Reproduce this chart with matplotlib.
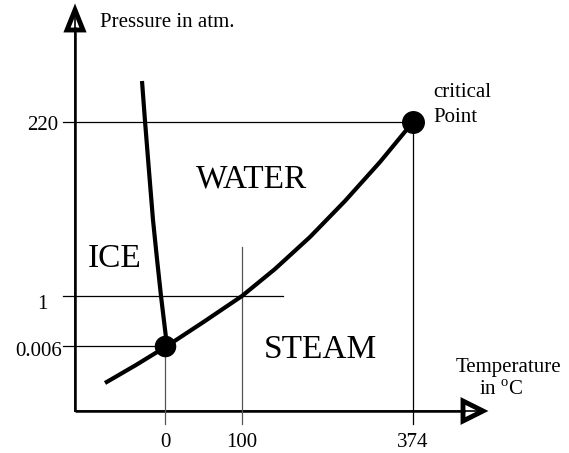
import numpy as np
import matplotlib
matplotlib.use('Agg')
import matplotlib.pyplot as plt
from matplotlib.patches import Polygon

plt.rcParams['font.family'] = 'Liberation Serif'
plt.rcParams['mathtext.fontset'] = 'custom'
plt.rcParams['mathtext.rm'] = 'Liberation Serif'

# schematic diagram, units = distance from the axis corner
temp_ticks = ['0', '100', '374']
temp_pos = [90, 167, 338]
pres_ticks = ['0.006', '1', '220']
pres_pos = [65, 115, 289]

# melting curve (ice / water)
ice_x = [67, 70, 74, 78, 82, 86, 92]
ice_y = [330, 290, 240, 191, 152, 115, 65]

# boiling curve (steam), from below the triple point up to the critical point
vap_x = [30, 61, 92, 130, 167, 200, 235, 270, 305, 338]
vap_y = [28, 46, 65, 90, 115, 142, 174, 210, 249, 289]

triple = (temp_pos[0], pres_pos[0])
critical = (temp_pos[2], pres_pos[2])

fig = plt.figure(figsize=(5.69, 4.53), dpi=100)
ax = fig.add_axes([0, 0, 1, 1])
ax.set_xlim(-75, 494)
ax.set_ylim(-42, 411)
ax.axis('off')

# axes with open arrow heads
ax.plot([0, 390], [0, 0], color='k', lw=1.8, solid_capstyle='butt')
ax.plot([0, 0], [0, 384], color='k', lw=1.8, solid_capstyle='butt')
ax.add_patch(Polygon([[408, 0], [388, 10], [388, -10]], closed=True,
                     facecolor='white', edgecolor='k', lw=3.5, joinstyle='miter'))
ax.add_patch(Polygon([[0, 401], [-8, 381], [8, 381]], closed=True,
                     facecolor='white', edgecolor='k', lw=3.5, joinstyle='miter'))
ax.plot([0, 0], [0, 396], color='k', lw=1.2)
ax.plot([0, 402], [0, 0], color='k', lw=1.2)

# guide lines
ax.plot([-12, critical[0]], [pres_pos[2], pres_pos[2]], color='k', lw=0.9)
ax.plot([-12, 208], [pres_pos[1], pres_pos[1]], color='k', lw=0.9)
ax.plot([-12, triple[0]], [pres_pos[0], pres_pos[0]], color='k', lw=0.9)
ax.plot([temp_pos[0], temp_pos[0]], [-13, pres_pos[0]], color='#555555', lw=0.9)
ax.plot([temp_pos[1], temp_pos[1]], [-13, 164], color='#555555', lw=0.9)
ax.plot([temp_pos[2], temp_pos[2]], [-13, pres_pos[2]], color='k', lw=0.9)

# phase boundaries
ax.plot(ice_x, ice_y, color='k', lw=3, solid_capstyle='butt', solid_joinstyle='round')
ax.plot(vap_x, vap_y, color='k', lw=3, solid_capstyle='butt', solid_joinstyle='round')
ax.plot(*triple, 'o', color='k', ms=14.5)
ax.plot(*critical, 'o', color='k', ms=15.5)

# tick labels
ax.text(-17, 281, pres_ticks[2], fontsize=15, ha='right', va='baseline')
ax.text(-27, 102, pres_ticks[1], fontsize=15, ha='right', va='baseline')
ax.text(-13, 55, pres_ticks[0], fontsize=15, ha='right', va='baseline')
for lab, xp in zip(temp_ticks, temp_pos):
    ax.text(xp, -36, lab, fontsize=15, ha='center', va='baseline')

# labels
ax.text(25, 384, 'Pressure in atm.', fontsize=15, va='baseline')
ax.text(433, 39, 'Temperature', fontsize=15, ha='center', va='baseline')
ax.text(404, 16, r'in $^{\mathrm{o}}$C', fontsize=15, va='baseline')
ax.text(358, 314, 'critical', fontsize=15, va='baseline')
ax.text(358, 289, 'Point', fontsize=15, va='baseline')

ax.text(177, 223, 'WATER', fontsize=24, ha='center', va='baseline')
ax.text(40, 144, 'ICE', fontsize=24, ha='center', va='baseline')
ax.text(245, 53, 'STEAM', fontsize=24, ha='center', va='baseline')

plt.savefig('out.png', dpi=100)
